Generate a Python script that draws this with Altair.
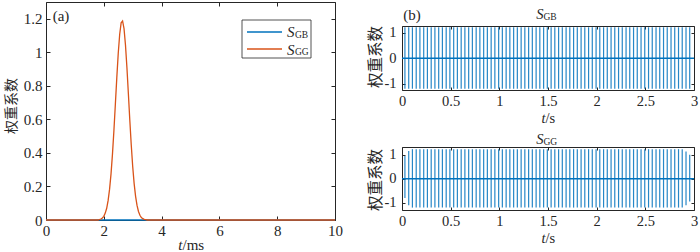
import altair as alt
import pandas as pd

# ---------------- data ----------------
# panel (a): weighting coefficients vs time (ms)
a_time = [0, 1.8, 1.85, 1.9, 1.95, 2.0, 2.05, 2.1, 2.15, 2.2, 2.25, 2.3, 2.35, 2.4, 2.45,
          2.5, 2.55, 2.6, 2.65, 2.7, 2.75, 2.8, 2.85, 2.9, 2.95, 3.0, 3.05, 3.1, 3.15,
          3.2, 3.25, 3.3, 3.35, 3.4, 3.45, 3.5, 10]
a_sgg = [0, 0, 0.003, 0.006, 0.012, 0.022, 0.041, 0.070, 0.117, 0.184, 0.275, 0.393, 0.534, 0.690, 0.849,
         0.994, 1.108, 1.176, 1.187, 1.141, 1.044, 0.909, 0.754, 0.595, 0.447, 0.319, 0.217, 0.141, 0.087,
         0.051, 0.028, 0.015, 0.008, 0.004, 0.002, 0, 0]
a_sgb_time = [0, 10]
a_sgb = [0, 0]

# panel (b): pulse positions (s) and their upper / lower extents
b_time = [0.030, 0.069, 0.107, 0.146, 0.184, 0.223, 0.261, 0.300, 0.338, 0.377, 0.415, 0.454,
          0.492, 0.531, 0.569, 0.608, 0.646, 0.685, 0.723, 0.762, 0.800, 0.839, 0.877, 0.916,
          0.954, 0.993, 1.031, 1.070, 1.108, 1.147, 1.185, 1.224, 1.262, 1.301, 1.339, 1.378,
          1.416, 1.455, 1.493, 1.532, 1.570, 1.609, 1.647, 1.686, 1.724, 1.763, 1.801, 1.840,
          1.878, 1.917, 1.955, 1.994, 2.032, 2.071, 2.109, 2.148, 2.186, 2.225, 2.263, 2.302,
          2.340, 2.379, 2.417, 2.456, 2.494, 2.533, 2.571, 2.610, 2.648, 2.687, 2.725, 2.764,
          2.802, 2.841, 2.879, 2.918, 2.956]
gb_hi = [1.22] * 77
gb_lo = [-1.2] * 77
gg_hi = [0.95, 1.15] + [1.23] * 73 + [1.13, 1.0]
gg_lo = [-0.8, -1.1] + [-1.2] * 73 + [-1.1, -0.95]
b_zero_t = [0, 3]
b_zero_v = [0, 0]

a_xticks = [0, 2, 4, 6, 8, 10]
a_yticks = [0, 0.2, 0.4, 0.6, 0.8, 1, 1.2]
b_xticks = [0, 0.5, 1, 1.5, 2, 2.5, 3]
b_yticks = [-1, 0, 1]

# ---------------- style ----------------
BLUE = "#0072BD"
ORANGE = "#D95319"
INK = "#262626"
SERIF = "Liberation Serif"
CJK = "Noto Sans CJK SC"
YTITLE = "权重系数"

one = pd.DataFrame({"k": [0]})


def axis(orient, values, tick, labels=True, label_size=15, label_pad=4):
    return alt.Axis(orient=orient, values=values, offset=-tick, tickSize=tick, tickColor=INK,
                    tickWidth=1, domain=False, grid=False, labels=labels, labelFlush=False,
                    labelOverlap=False, labelFont=SERIF, labelFontSize=label_size,
                    labelColor=INK, labelPadding=label_pad, labelExpr="'' + datum.value",
                    title=None)


def text(label, x, y, size=15, italic=False, align="center", dx=0, font=SERIF, angle=0):
    kw = dict(text=label, font=font, fontSize=size, color=INK, align=align,
              baseline="middle", dx=dx, angle=angle)
    if italic:
        kw["fontStyle"] = "italic"
    return alt.Chart(one).mark_text(**kw).encode(x=x, y=y)


# ---------------- panel (a) ----------------
WA, HA = 289, 218
xa = alt.Scale(domain=[0, 10], nice=False, zero=False)
ya = alt.Scale(domain=[0, 1.3], nice=False, zero=False)

df_gb = pd.DataFrame({"t": a_sgb_time, "v": a_sgb})
df_gg = pd.DataFrame({"t": a_time, "v": a_sgg})

gb_line = alt.Chart(df_gb).mark_line(color=BLUE, strokeWidth=1.3).encode(
    x=alt.X("t:Q", scale=xa, axis=axis("bottom", a_xticks, 4, label_pad=3)),
    y=alt.Y("v:Q", scale=ya, axis=axis("left", a_yticks, 4)),
)
gg_line = alt.Chart(df_gg).mark_line(color=ORANGE, strokeWidth=1.3).encode(
    x=alt.X("t:Q", scale=xa, axis=None),
    y=alt.Y("v:Q", scale=ya, axis=None),
)
mirror_a = alt.Chart(df_gb).mark_line(opacity=0).encode(
    x=alt.X("t:Q", scale=xa, axis=axis("top", a_xticks, 4, labels=False)),
    y=alt.Y("v:Q", scale=ya, axis=axis("right", a_yticks, 4, labels=False)),
)
leg_box = alt.Chart(one).mark_rect(fill="white", stroke=INK, strokeWidth=0.8).encode(
    x=alt.value(196), x2=alt.value(265), y=alt.value(18), y2=alt.value(56))
leg_gb = alt.Chart(one).mark_rule(color=BLUE, strokeWidth=1.3).encode(
    x=alt.value(201), x2=alt.value(236), y=alt.value(30))
leg_gg = alt.Chart(one).mark_rule(color=ORANGE, strokeWidth=1.3).encode(
    x=alt.value(201), x2=alt.value(236), y=alt.value(47))

tx_mid = alt.XDatum(5, scale=xa, axis=None)
left = alt.layer(
    gb_line, gg_line, mirror_a,
    leg_box, leg_gb, leg_gg,
    text("S", alt.value(241), alt.value(30), size=15, italic=True, align="left"),
    text("GB", alt.value(249), alt.value(32.5), size=9.5, align="left"),
    text("S", alt.value(241), alt.value(47.5), size=15, italic=True, align="left"),
    text("GG", alt.value(249), alt.value(50), size=9.5, align="left"),
    text("(a)", alt.value(15), alt.value(14), size=15),
    text("t", tx_mid, alt.value(HA + 25), size=15, italic=True, align="right", dx=-8),
    text("/ms", tx_mid, alt.value(HA + 25), size=15, align="left", dx=-8),
    text(YTITLE, alt.value(-34), alt.value(104), size=14, font=CJK, angle=270),
).resolve_axis(x="independent", y="independent").properties(width=WA, height=HA)


# ---------------- panel (b) ----------------
WB = 292


def pulse_panel(hi, lo, ydom, height, sub, title_y, ytitle_y, label=None):
    xs = alt.Scale(domain=[0, 3], nice=False, zero=False)
    ys = alt.Scale(domain=ydom, nice=False, zero=False)
    df = pd.DataFrame({"t": b_time, "hi": hi, "lo": lo})
    dz = pd.DataFrame({"t": b_zero_t, "v": b_zero_v})
    bars = alt.Chart(df).mark_rule(color=BLUE, strokeWidth=1.2, opacity=0.85).encode(
        x=alt.X("t:Q", scale=xs, axis=axis("bottom", b_xticks, 3, label_size=14.5, label_pad=4)),
        y=alt.Y("lo:Q", scale=ys, axis=axis("left", b_yticks, 3, label_size=14.5, label_pad=6)),
        y2="hi:Q",
    )
    zero = alt.Chart(dz).mark_line(color=BLUE, strokeWidth=1.4).encode(
        x=alt.X("t:Q", scale=xs, axis=None),
        y=alt.Y("v:Q", scale=ys, axis=None),
    )
    mirror = alt.Chart(dz).mark_line(opacity=0).encode(
        x=alt.X("t:Q", scale=xs, axis=axis("top", b_xticks, 3, labels=False)),
        y=alt.Y("v:Q", scale=ys, axis=axis("right", b_yticks, 3, labels=False)),
    )
    mid = alt.XDatum(1.5, scale=xs, axis=None)
    layers = [
        bars, zero, mirror,
        text("S", mid, alt.value(title_y), size=14.5, italic=True, align="right", dx=-4.5),
        text(sub, mid, alt.value(title_y + 2), size=9.5, align="left", dx=-4.5),
        text("t", mid, alt.value(height + 29), size=14.5, italic=True, align="right", dx=-2.5),
        text("/s", mid, alt.value(height + 29), size=14.5, align="left", dx=-2.5),
        text(YTITLE, alt.value(-26), alt.value(ytitle_y), size=15.5, font=CJK, angle=270),
    ]
    if label:
        layers.append(text(label, alt.value(10), alt.value(-11), size=15))
    return alt.layer(*layers).resolve_axis(
        x="independent", y="independent").properties(width=WB, height=height)


rt = pulse_panel(gb_hi, gb_lo, [-1.25, 1.27], 64, "GB", -11, 31, label="(b)")
rb = pulse_panel(gg_hi, gg_lo, [-1.3, 1.32], 63, "GG", -7, 33)

spacer = alt.Chart(one).mark_point(opacity=0).properties(
    width=WB, height=24, view=alt.ViewBackground(strokeOpacity=0))

right = alt.vconcat(
    spacer,
    alt.vconcat(rt, rb, spacing=57, bounds="flush"),
    spacing=0, bounds="flush",
)

chart = alt.hconcat(left, right, spacing=67, bounds="flush").properties(
    padding={"left": 4, "top": 1, "right": 0, "bottom": 0},
    background="white",
).configure_view(stroke=INK, strokeWidth=1)

chart.save("out.html", embed_options={"renderer": "svg", "actions": False})
